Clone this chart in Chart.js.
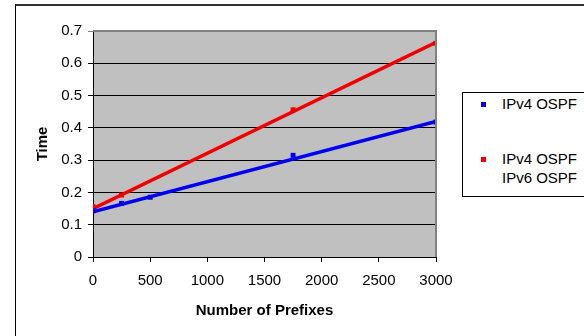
<!DOCTYPE html>
<html>
<head>
<meta charset="utf-8">
<script src="https://cdn.jsdelivr.net/npm/chart.js@4/dist/chart.umd.min.js"></script>
<style>
  html, body { margin: 0; padding: 0; background: #fff; overflow: hidden; }
  #wrap { position: relative; width: 584px; height: 336px; }
  #frame { position: absolute; left: 15px; top: 4px; width: 600px; height: 400px; border-left: 1px solid #000; border-top: 2px solid #333; }
  canvas { position: absolute; left: 0; top: 0; }
  #legend { position: absolute; left: 462px; top: 92px; width: 200px; height: 103px; border: 1px solid #000; background: #fff;
            font-family: "Liberation Sans", Arial, sans-serif; font-size: 15px; color: #000; }
  .item { position: absolute; left: 39px; line-height: 18px; white-space: nowrap; }
  .mk { position: absolute; left: 18px; width: 5px; height: 5px; }
</style>
</head>
<body>
<div id="wrap">
  <div id="frame"></div>
  <canvas id="c" width="584" height="336"></canvas>
  <div id="legend"></div>
</div>
<script>
// ---- data ----
const prefixes = [0, 250, 500, 1750, 3000];
const blueValues = [0.143, 0.166, 0.185, 0.315, 0.418];
const redValues = [0.156, 0.192, null, 0.456, 0.662];
const trendX = [0, 3000];
const blueTrend = [0.140, 0.420];
const redTrend = [0.150, 0.665];
const legendLabels = ["IPv4 OSPF", "IPv4 OSPF", "IPv6 OSPF"];
const yTicks = [0, 0.1, 0.2, 0.3, 0.4, 0.5, 0.6, 0.7];
const xTicks = [0, 500, 1000, 1500, 2000, 2500, 3000];
const xTitle = "Number of Prefixes";
const yTitle = "Time";

const BLUE = '#0000F0';
const RED = '#F00000';

function pts(xs, ys) {
  const out = [];
  xs.forEach((x, i) => { if (ys[i] !== null) out.push({x: x, y: ys[i]}); });
  return out;
}

const bgPlugin = {
  id: 'bg',
  beforeDraw(chart) {
    const a = chart.chartArea, ctx = chart.ctx;
    ctx.save();
    ctx.fillStyle = '#C0C0C0';
    ctx.fillRect(a.left, a.top, a.right - a.left, a.bottom - a.top);
    ctx.restore();
  },
  afterDatasetsDraw(chart) {
    const a = chart.chartArea, ctx = chart.ctx;
    ctx.save();
    ctx.strokeStyle = '#808080';
    ctx.lineWidth = 2;
    ctx.beginPath();
    ctx.moveTo(a.left, a.top);
    ctx.lineTo(a.right, a.top);
    ctx.lineTo(a.right, a.bottom);
    ctx.stroke();
    ctx.restore();
  }
};

const font = { family: '"Liberation Sans", Arial, sans-serif', size: 15 };
const bold = { family: '"Liberation Sans", Arial, sans-serif', size: 15, weight: 'bold' };

new Chart(document.getElementById('c'), {
  type: 'scatter',
  data: {
    datasets: [
      { data: pts(trendX, blueTrend), showLine: true, borderColor: BLUE, borderWidth: 3.5, pointRadius: 0, order: 2 },
      { data: pts(trendX, redTrend), showLine: true, borderColor: RED, borderWidth: 3.5, pointRadius: 0, order: 2 },
      { data: pts(prefixes, blueValues), showLine: false, pointStyle: 'rect', pointRadius: 3.5, backgroundColor: BLUE, borderColor: BLUE, borderWidth: 0, order: 1 },
      { data: pts(prefixes, redValues), showLine: false, pointStyle: 'rect', pointRadius: 3.5, backgroundColor: RED, borderColor: RED, borderWidth: 0, order: 1 }
    ]
  },
  options: {
    responsive: false,
    animation: false,
    events: [],
    layout: { padding: { left: 15, top: 31, right: 148, bottom: 0 } },
    plugins: { legend: { display: false }, tooltip: { enabled: false } },
    scales: {
      x: {
        type: 'linear', min: 0, max: 3000,
        afterFit(s) { s.height = 79; },
        afterBuildTicks(s) { s.ticks = xTicks.map(v => ({ value: v })); },
        ticks: { font: font, color: '#000', padding: 10, maxRotation: 0, callback: v => String(v) },
        grid: { drawOnChartArea: false, tickLength: 5, color: '#000', lineWidth: 1 },
        border: { color: '#000', width: 1 },
        title: { display: true, text: xTitle, font: bold, color: '#000', padding: { top: 16, bottom: 16 } }
      },
      y: {
        type: 'linear', min: 0, max: 0.7,
        afterFit(s) { s.width = 78; },
        afterBuildTicks(s) { s.ticks = yTicks.map(v => ({ value: v })); },
        ticks: { font: font, color: '#000', padding: 6, callback: v => String(Number(v.toFixed(1))) },
        grid: { tickLength: 5, color: ctx => (ctx.tick && ctx.tick.value >= 0.7 ? '#808080' : '#000'), lineWidth: 1 },
        border: { color: '#000', width: 1 },
        title: { display: true, text: yTitle, font: bold, color: '#000', padding: { top: 19, bottom: 19 } }
      }
    }
  },
  plugins: [bgPlugin]
});

// legend (HTML text)
const lg = document.getElementById('legend');
const rows = [
  { text: legendLabels[0], color: BLUE, y: 11 },
  { text: legendLabels[1], color: RED, y: 66 },
  { text: legendLabels[2], color: null, y: 85 }
];
rows.forEach(r => {
  const t = document.createElement('div');
  t.className = 'item';
  t.style.top = (r.y - 9) + 'px';
  t.textContent = r.text;
  lg.appendChild(t);
  if (r.color) {
    const m = document.createElement('div');
    m.className = 'mk';
    m.style.top = (r.y - 2) + 'px';
    m.style.background = r.color;
    lg.appendChild(m);
  }
});
</script>
</body>
</html>
